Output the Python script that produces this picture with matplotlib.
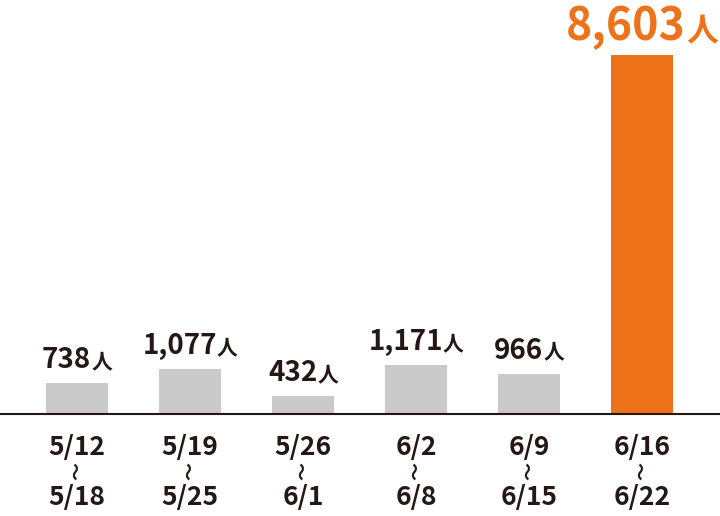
#%% Imports
import matplotlib
matplotlib.use('Agg')
import matplotlib.pyplot as plt
from matplotlib.transforms import blended_transform_factory, offset_copy

#%% Data
weeks_start = ['5/12', '5/19', '5/26', '6/2', '6/9', '6/16']
weeks_end = ['5/18', '5/25', '6/1', '6/8', '6/15', '6/22']
visitors = [738, 1077, 432, 1171, 966, 8603]
highlight = [False, False, False, False, False, True]

gray = '#cacaca'
orange = '#ee7219'
ink = '#231815'
font = ['Noto Sans CJK JP', 'DejaVu Sans']

#%% Plot
fig = plt.figure(figsize=(7.2, 5.16), dpi=100)
ax = fig.add_axes([0, 0, 1, 1])
ax.set_xlim(-0.681, 5.69)
ax.set_ylim(-2444, 9920)
ax.axis('off')

x = list(range(len(visitors)))
colors = [orange if h else gray for h in highlight]
ax.bar(x, visitors, width=0.55, color=colors, zorder=2)
ax.axhline(0, color=ink, lw=1.5, zorder=3)

fig.canvas.draw()
renderer = fig.canvas.get_renderer()

for i, v in enumerate(visitors):
    big = highlight[i]
    num_size = 32 if big else 20
    unit_size = 23 if big else 15
    col = orange if big else ink
    gap = 0
    base = offset_copy(ax.transData, fig=fig, x=0, y=10.8, units='points')
    num = ax.text(i, v, f'{v:,}', transform=base, ha='left', va='baseline',
                  fontsize=num_size, fontweight='bold', color=col, family=font)
    unit = ax.text(i, v, '人', transform=base, ha='left', va='baseline',
                   fontsize=unit_size, fontweight='bold', color=col, family=font)
    w_num = num.get_window_extent(renderer).width
    w_unit = unit.get_window_extent(renderer).width
    total = w_num + w_unit + gap
    num.set_transform(offset_copy(base, fig=fig, x=-total / 2, y=0, units='dots'))
    unit.set_transform(offset_copy(base, fig=fig, x=-total / 2 + w_num + gap, y=0, units='dots'))

trans = blended_transform_factory(ax.transData, fig.transFigure)
for i in x:
    ax.text(i, 1 - 447 / 516, weeks_start[i], transform=trans, ha='center', va='center',
            fontsize=19, fontweight='bold', color=ink, family=font)
    ax.text(i, 1 - 471 / 516, '〜', transform=trans, ha='center', va='center', rotation=90,
            fontsize=13, fontweight='bold', color=ink, family=font)
    ax.text(i, 1 - 497 / 516, weeks_end[i], transform=trans, ha='center', va='center',
            fontsize=19, fontweight='bold', color=ink, family=font)

fig.savefig('out.png', dpi=100)
